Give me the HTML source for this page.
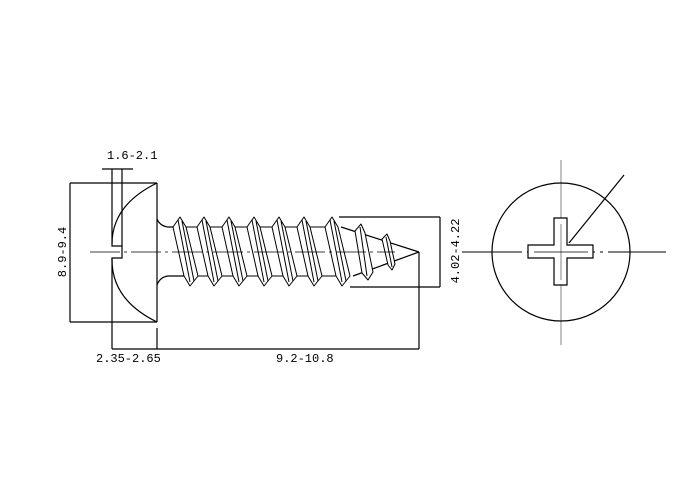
<!DOCTYPE html>
<html><head><style>
html,body{margin:0;padding:0;background:#fff;}
svg{display:block;}
text{font-family:"Liberation Mono","DejaVu Sans Mono",monospace;font-size:12px;fill:#000;}
</style></head><body>
<svg width="700" height="500" viewBox="0 0 700 500" xmlns="http://www.w3.org/2000/svg">
<g stroke="#000" stroke-width="1.2" fill="none">
<!-- head -->
<line x1="70" y1="183" x2="157" y2="183"/>
<line x1="70" y1="322" x2="157" y2="322"/>
<line x1="70" y1="183" x2="70" y2="322"/>
<line x1="157" y1="183" x2="157" y2="322"/>
<path d="M157,183 Q112,205 112,244"/>
<path d="M112,260 Q112,300 157,322"/>
<!-- slot -->
<path d="M112,244 L112,246 L122,246 L122,258 L112,258 L112,260"/>
<line x1="112" y1="169" x2="112" y2="244"/>
<line x1="122" y1="169" x2="122" y2="246"/>
<line x1="102" y1="169" x2="133" y2="169"/>
<!-- bottom dims -->
<line x1="112" y1="258" x2="112" y2="349"/>
<line x1="157" y1="328" x2="157" y2="349"/>
<line x1="112" y1="349" x2="419" y2="349"/>
<line x1="419" y1="252" x2="419" y2="349"/>
<!-- neck and shank -->
<path d="M157,219 Q160,226 168,227 L174,227"/>
<path d="M157,285 Q160,277 168,276 L186,276"/>
<!-- right dim -->
<line x1="339" y1="217" x2="440" y2="217"/>
<line x1="350" y1="287" x2="440" y2="287"/>
<line x1="440" y1="217" x2="440" y2="287"/>
<!-- tip -->
<line x1="341" y1="227" x2="419" y2="252"/>
<line x1="353" y1="276" x2="419" y2="252"/>
</g>
<g stroke="#000" stroke-width="1" fill="#fff" stroke-linejoin="round">
<!-- threads -->
<g id="th">
<polygon points="173,227 180,217 186,227 198,276 190,286 184,276"/>
<line x1="178" y1="220" x2="190" y2="282"/>
<line x1="182" y1="221" x2="194" y2="281"/>
</g>
<use href="#th" x="24"/>
<use href="#th" x="49"/>
<use href="#th" x="74"/>
<use href="#th" x="99"/>
<use href="#th" x="124"/>
<use href="#th" x="152"/>
<line x1="186" y1="227" x2="197" y2="227"/>
<line x1="210" y1="227" x2="222" y2="227"/>
<line x1="235" y1="227" x2="247" y2="227"/>
<line x1="260" y1="227" x2="272" y2="227"/>
<line x1="285" y1="227" x2="297" y2="227"/>
<line x1="310" y1="227" x2="325" y2="227"/>
<line x1="198" y1="276" x2="208" y2="276"/>
<line x1="222" y1="276" x2="233" y2="276"/>
<line x1="247" y1="276" x2="258" y2="276"/>
<line x1="272" y1="276" x2="283" y2="276"/>
<line x1="297" y1="276" x2="308" y2="276"/>
<line x1="322" y1="276" x2="336" y2="276"/>
<polygon points="355,231 361,224 365,233 373,272 368,280 362,273"/>
<line x1="360" y1="227" x2="367" y2="276"/>
<polygon points="382,239 387,234 390,241 395,264 392,270 388,265"/>
<line x1="386" y1="237" x2="392" y2="267"/>
</g>
<!-- centerlines -->
<g stroke="#000" stroke-width="0.8" stroke-dasharray="30,4,3,4">
<line x1="90" y1="252" x2="395" y2="252"/>
</g>
<!-- right view -->
<g stroke="#999" stroke-width="1.2">
<line x1="561" y1="160" x2="561" y2="345"/>
</g>
<g stroke="#000" stroke-width="1" stroke-dasharray="60,5,3,5">
<line x1="462" y1="252" x2="666" y2="252"/>
</g>
<g stroke="#000" stroke-width="1.2" fill="none">
<circle cx="561" cy="252" r="69"/>
<path d="M554,218 H567 V245 H593 V258 H567 V285 H554 V258 H528 V245 H554 Z" fill="#fff"/>
<line x1="561" y1="224" x2="561" y2="280" stroke="#999"/>
<line x1="534" y1="252" x2="588" y2="252" stroke="#000" stroke-width="0.8"/>
<line x1="624" y1="175" x2="569" y2="243"/>
</g>
<text x="107" y="159">1.6-2.1</text>
<text x="96" y="362">2.35-2.65</text>
<text x="276" y="362">9.2-10.8</text>
<text transform="translate(66,252) rotate(-90)" text-anchor="middle">8.9-9.4</text>
<text transform="translate(459,251) rotate(-90)" text-anchor="middle">4.02-4.22</text>
</svg>
</body></html>
